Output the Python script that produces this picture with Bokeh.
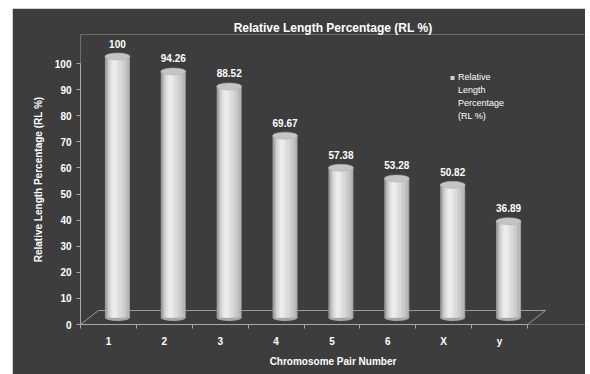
from bokeh.plotting import figure
from bokeh.models import (ColumnDataSource, Range1d, FixedTicker, Title, Legend, LegendItem)
from bokeh.transform import dodge
from bokeh.core.properties import value
from bokeh.embed import file_html
from bokeh.resources import INLINE

# ---- data ----
categories = ["1", "2", "3", "4", "5", "6", "X", "y"]
rl_percent = [100, 94.26, 88.52, 69.67, 57.38, 53.28, 50.82, 36.89]
y_ticks = [0, 10, 20, 30, 40, 50, 60, 70, 80, 90, 100]
series_name = ["Relative", "Length", "Percentage", "(RL %)"]

BG = "#3d3d3d"
FONT = "Liberation Sans"

n = len(categories)
xs = [i + 0.5 for i in range(n)]
src = ColumnDataSource(dict(x=xs, value=rl_percent,
                            label=[f"{v:g}" for v in rl_percent],
                            cat=categories))

PX_X = 55.875          # pixels per category
PX_Y = 2.61            # pixels per y unit
DX = 9 / PX_X          # depth shift of bars (x)
DY = 7 / PX_Y          # depth shift of bars (y)

p = figure(width=573, height=366, output_backend="svg", toolbar_location=None,
           x_range=Range1d(0, 505 / PX_X), y_range=Range1d(0, 290 / PX_Y),
           min_border_left=68, min_border_right=0, min_border_top=26,
           min_border_bottom=50, background_fill_color=BG, border_fill_color=BG,
           outline_line_color=None)
p.styles = {"margin-left": "12px", "margin-top": "8px"}
p.grid.visible = False

title = Title(text="Relative Length Percentage (RL %)", align="center",
              text_color="white", text_font=FONT, text_font_size="12px",
              text_font_style="bold", standoff=0)
p.add_layout(title, "above")

# floor (3D base)
fx = [0, n, n + 2 * DX, 2 * DX, 0]
fy = [0, 0, 2 * DY, 2 * DY, 0]
p.line(fx, fy, line_color="#9c9c9c", line_width=1)

# bottom ellipse of cylinders
p.ellipse(x=dodge("x", DX), y=DY, width=25, height=7, width_units="screen",
          height_units="screen", source=src, fill_color="#a8a8a8", line_color=None)

layers = [(25, 0.0, "#9e9e9e"), (22, 0.5, "#b9b9b9"), (18, -0.5, "#cbcbcb"),
          (13, -1.5, "#d9d9d9"), (8, -2.5, "#e4e4e4"), (4, -3.0, "#ececec")]
for w, off, col in layers:
    p.vbar(x=dodge("x", DX + off / PX_X), width=w / PX_X, bottom=DY,
           top=dodge("value", DY), source=src, fill_color=col, line_color=None)

# top face of cylinders
p.ellipse(x=dodge("x", DX), y=dodge("value", DY), width=25, height=7,
          width_units="screen", height_units="screen", source=src,
          fill_color="#c4c4c4", line_color="#b0b0b0", line_width=0.5)

# data labels
p.text(x=dodge("x", DX), y=dodge("value", DY), text="label", source=src,
       y_offset=-13, text_align="center", text_baseline="middle",
       text_color="white", text_font=value(FONT), text_font_size="10px",
       text_font_style="bold")

# axes
ya = p.yaxis[0]
ya.ticker = FixedTicker(ticks=y_ticks)
ya.bounds = (0, 100)
ya.axis_line_color = "#a8a8a8"
ya.major_tick_line_color = "#a8a8a8"
ya.major_tick_out = 4
ya.major_tick_in = 0
ya.minor_tick_line_color = None
ya.major_label_text_color = "white"
ya.major_label_text_font = FONT
ya.major_label_text_font_size = "10px"
ya.major_label_text_font_style = "bold"
ya.major_label_standoff = 5
ya.axis_label = "Relative Length Percentage (RL %)"
ya.axis_label_text_color = "white"
ya.axis_label_text_font = FONT
ya.axis_label_text_font_size = "10px"
ya.axis_label_text_font_style = "bold"
ya.axis_label_standoff = 8

xa = p.xaxis[0]
xa.ticker = FixedTicker(ticks=xs, minor_ticks=list(range(n + 1)))
xa.bounds = (0, n)
xa.major_label_overrides = {x: c for x, c in zip(xs, categories)}
xa.axis_line_color = "#a8a8a8"
xa.major_tick_line_color = None
xa.major_tick_out = 0
xa.major_tick_in = 0
xa.minor_tick_line_color = "#a8a8a8"
xa.minor_tick_out = 4
xa.minor_tick_in = 0
xa.major_label_text_color = "white"
xa.major_label_text_font = FONT
xa.major_label_text_font_size = "10px"
xa.major_label_text_font_style = "bold"
xa.major_label_standoff = 7
xa.axis_label = "Chromosome Pair Number"
xa.axis_label_text_color = "white"
xa.axis_label_text_font = FONT
xa.axis_label_text_font_size = "10px"
xa.axis_label_text_font_style = "bold"
xa.axis_label_standoff = 6

# legend: one series, its name wrapped on four lines
nan = float("nan")
key = p.scatter([nan], [nan], marker="square", fill_color="#d0d0d0", line_color=None)
blank = p.scatter([nan], [nan], marker="square", fill_alpha=0, line_alpha=0)
items = [LegendItem(label=series_name[0], renderers=[key])]
items += [LegendItem(label=s, renderers=[blank]) for s in series_name[1:]]
legend = Legend(items=items, location=(367, 201.5), background_fill_alpha=0,
                border_line_color=None, padding=0, margin=0, spacing=0,
                glyph_width=10, glyph_height=13, label_height=12,
                label_standoff=1, label_text_color="white",
                label_text_font=FONT, label_text_font_size="9px",
                label_text_baseline="middle")
p.add_layout(legend)

open("out.html", "w").write(file_html(p, INLINE))
